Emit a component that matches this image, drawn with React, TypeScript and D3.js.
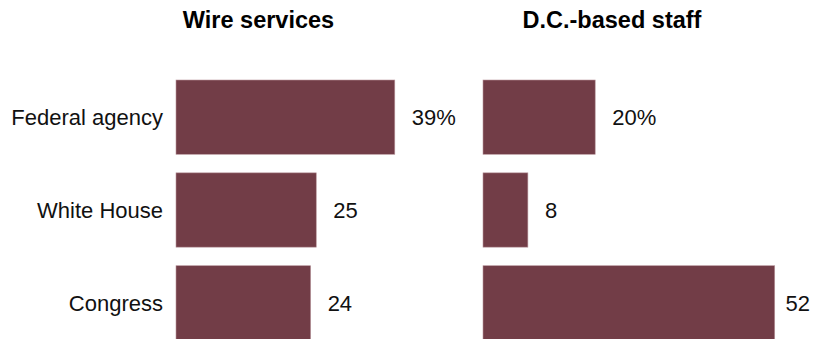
import React from "react";
import * as d3 from "d3";

const categories = ["Federal agency", "White House", "Congress"];
const wireValues = [39, 25, 24];
const dcValues = [20, 8, 52];
const valueLabelsWire = ["39%", "25", "24"];
const valueLabelsDc = ["20%", "8", "52"];
const panelTitles = ["Wire services", "D.C.-based staff"];

const W = 818;
const H = 339;
const BAR = "#723d47";

export default function App() {
  const y = d3.scaleBand<string>().domain(categories).range([80, 340]).paddingInner(0.2).paddingOuter(0);
  const x = d3.scaleLinear().domain([0, 100]).range([0, 561]);
  const panels = [
    { title: panelTitles[0], values: wireValues, labels: valueLabelsWire, x0: 176, titleX: 258.5 },
    { title: panelTitles[1], values: dcValues, labels: valueLabelsDc, x0: 483, titleX: 612 },
  ];
  const labelFont = "'Liberation Sans', Arial, sans-serif";
  return (
    <svg width={W} height={H} style={{ position: "absolute", left: 0, top: 0, background: "#fff" }}>
      {categories.map((c) => (
        <text key={c} x={163} y={(y(c) ?? 0) + y.bandwidth() / 2 + 8} textAnchor="end"
          fontFamily={labelFont} fontSize={22} fill="#111">{c}</text>
      ))}
      {panels.map((p) => (
        <g key={p.title}>
          <text x={p.titleX} y={28} textAnchor="middle" fontFamily={labelFont} fontWeight="bold"
            fontSize={23.5} fill="#000">{p.title}</text>
          {categories.map((c, i) => {
            const y0 = y(c) ?? 0;
            const xe = p.x0 + x(p.values[i]);
            const tw = p.labels[i].length * 12.2;
            const overflow = xe + 17 + tw > 812;
            return (
              <g key={c}>
                <rect x={p.x0} y={y0} width={x(p.values[i])} height={y.bandwidth()} fill={BAR}
                  stroke="#b8959b" strokeWidth={0.6} />
                <text x={overflow ? 810 : xe + 17} y={y0 + y.bandwidth() / 2 + 8}
                  textAnchor={overflow ? "end" : "start"} fontFamily={labelFont} fontSize={22}
                  fill="#111">{p.labels[i]}</text>
              </g>
            );
          })}
        </g>
      ))}
    </svg>
  );
}
